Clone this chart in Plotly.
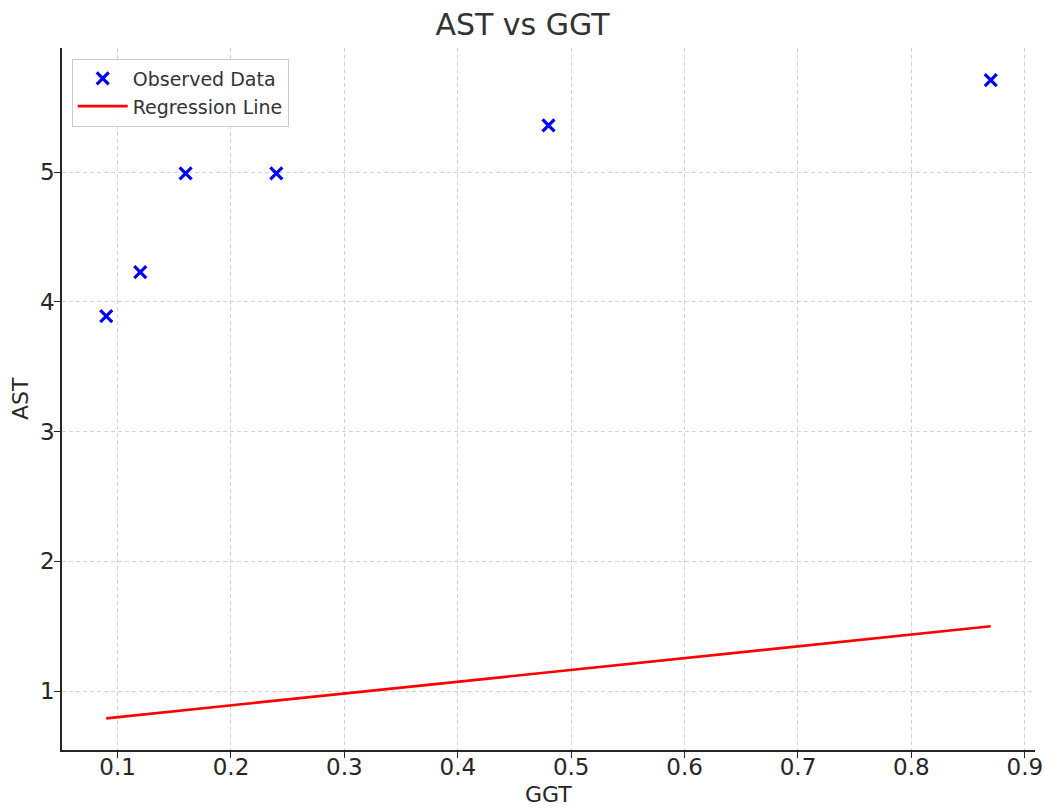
import plotly.graph_objects as go

# Observed measurements
ggt = [0.09, 0.12, 0.16, 0.24, 0.48, 0.87]
ast = [3.89, 4.23, 4.99, 4.99, 5.36, 5.71]

# Fitted regression line endpoints
reg_x = [0.09, 0.87]
reg_y = [0.79, 1.50]

x_ticks = [0.1, 0.2, 0.3, 0.4, 0.5, 0.6, 0.7, 0.8, 0.9]
y_ticks = [1, 2, 3, 4, 5]

FONT = "DejaVu Sans"
TEXT = "#262626"

fig = go.Figure()
fig.add_trace(go.Scatter(
    x=ggt, y=ast, mode="markers", name="Observed Data",
    marker=dict(symbol="x-thin", size=12, color="blue",
                line=dict(color="blue", width=3.2)),
))
fig.add_trace(go.Scatter(
    x=reg_x, y=reg_y, mode="lines", name="Regression Line",
    line=dict(color="red", width=2.7),
))

axis_common = dict(
    showline=True, linecolor="#262626", linewidth=1.6, mirror=False,
    ticks="outside", ticklen=6, tickwidth=1.3, tickcolor="#262626",
    tickfont=dict(family=FONT, size=23, color=TEXT),
    showgrid=True, gridcolor="#d3d3d3", gridwidth=1, griddash="4px,3px",
    zeroline=False, automargin=False,
)

fig.update_layout(
    width=1045, height=809,
    margin=dict(l=62, r=10, t=48, b=59),
    paper_bgcolor="white", plot_bgcolor="white",
    title=dict(text="AST vs GGT", x=0.5, xanchor="center", y=0.97, yanchor="middle",
               font=dict(family=FONT, size=30, color="#333333")),
    xaxis=dict(axis_common, range=[0.051, 0.909], tickvals=x_ticks,
               ticktext=[f"{v:.1f}" for v in x_ticks], ticklabelstandoff=-10),
    yaxis=dict(axis_common, range=[0.546, 5.957], tickvals=y_ticks,
               ticktext=[str(v) for v in y_ticks], ticklabelstandoff=-5),
    legend=dict(x=0.01, y=0.985, xanchor="left", yanchor="top",
                bgcolor="rgba(255,255,255,0.85)", bordercolor="#cccccc", borderwidth=1,
                itemwidth=50, tracegroupgap=4,
                font=dict(family=FONT, size=19, color="#333333")),
    showlegend=True,
    annotations=[
        dict(text="GGT", xref="paper", yref="paper", x=0.5, y=0, yshift=-44,
             xanchor="center", yanchor="middle", showarrow=False,
             font=dict(family=FONT, size=22, color=TEXT)),
        dict(text="AST", xref="paper", yref="paper", x=0, y=0.5, xshift=-42,
             xanchor="center", yanchor="middle", textangle=-90, showarrow=False,
             font=dict(family=FONT, size=22, color=TEXT)),
    ],
)

fig.write_html("out.html")
